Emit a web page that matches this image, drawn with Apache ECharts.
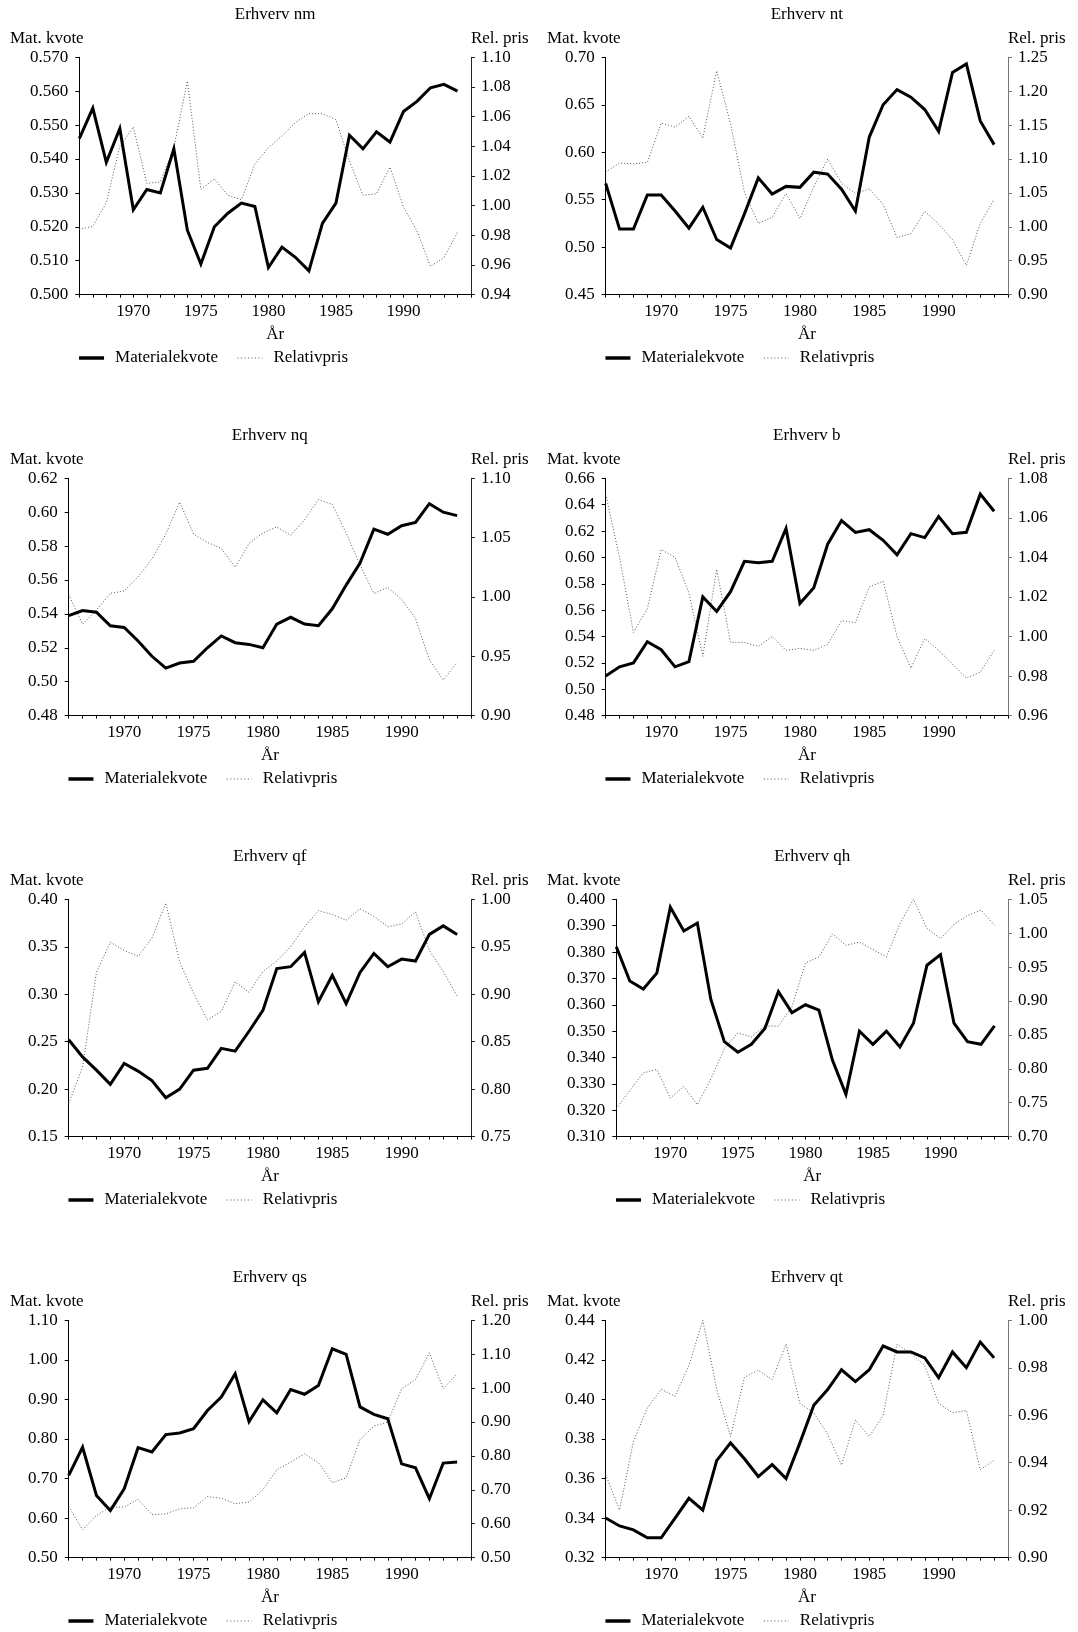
<!DOCTYPE html>
<html>
<head>
<meta charset="utf-8">
<script src="https://cdn.jsdelivr.net/npm/echarts@6/dist/echarts.min.js"></script>
<style>
  html, body { margin: 0; padding: 0; background: #fff; }
  #chart { width: 1078px; height: 1632px; }
</style>
</head>
<body>
<div id="chart"></div>
<script>
// Years on the horizontal axis
const years = [1966, 1967, 1968, 1969, 1970, 1971, 1972, 1973, 1974, 1975,
               1976, 1977, 1978, 1979, 1980, 1981, 1982, 1983, 1984, 1985,
               1986, 1987, 1988, 1989, 1990, 1991, 1992, 1993, 1994];

// Industries, in panel order (row by row, left to right)
const industries = ['nm', 'nt', 'nq', 'b', 'qf', 'qh', 'qs', 'qt'];

// Materialekvote (left axis) and Relativpris (right axis) per industry
const nmMat = [0.546, 0.555, 0.539, 0.549, 0.525, 0.531, 0.530, 0.543, 0.519, 0.509,
               0.520, 0.524, 0.527, 0.526, 0.508, 0.514, 0.511, 0.507, 0.521, 0.527,
               0.547, 0.543, 0.548, 0.545, 0.554, 0.557, 0.561, 0.562, 0.560];
const nmRel = [0.984, 0.986, 1.002, 1.040, 1.053, 1.015, 1.016, 1.039, 1.084, 1.011,
               1.018, 1.007, 1.004, 1.028, 1.039, 1.047, 1.056, 1.062, 1.062, 1.058,
               1.030, 1.007, 1.008, 1.026, 0.999, 0.983, 0.959, 0.965, 0.982];

const ntMat = [0.567, 0.519, 0.519, 0.555, 0.555, 0.538, 0.520, 0.542, 0.508, 0.499,
               0.535, 0.573, 0.556, 0.564, 0.563, 0.579, 0.577, 0.561, 0.538, 0.616,
               0.650, 0.666, 0.658, 0.645, 0.622, 0.684, 0.693, 0.633, 0.608];
const ntRel = [1.081, 1.094, 1.093, 1.095, 1.153, 1.147, 1.163, 1.131, 1.230, 1.152,
               1.051, 1.005, 1.014, 1.049, 1.012, 1.059, 1.100, 1.064, 1.049, 1.056,
               1.033, 0.984, 0.990, 1.023, 1.004, 0.981, 0.943, 1.005, 1.041];

const nqMat = [0.539, 0.542, 0.541, 0.533, 0.532, 0.524, 0.515, 0.508, 0.511, 0.512,
               0.520, 0.527, 0.523, 0.522, 0.520, 0.534, 0.538, 0.534, 0.533, 0.543,
               0.557, 0.570, 0.590, 0.587, 0.592, 0.594, 0.605, 0.600, 0.598];
const nqRel = [1.002, 0.977, 0.989, 1.003, 1.005, 1.017, 1.032, 1.053, 1.080, 1.053,
               1.046, 1.041, 1.025, 1.045, 1.054, 1.059, 1.052, 1.065, 1.082, 1.078,
               1.054, 1.027, 1.003, 1.008, 0.998, 0.982, 0.947, 0.930, 0.945];

const bMat  = [0.510, 0.517, 0.520, 0.536, 0.530, 0.517, 0.521, 0.570, 0.559, 0.574,
               0.597, 0.596, 0.597, 0.622, 0.565, 0.577, 0.610, 0.628, 0.619, 0.621,
               0.613, 0.602, 0.618, 0.615, 0.631, 0.618, 0.619, 0.648, 0.635];
const bRel  = [1.072, 1.040, 1.002, 1.014, 1.044, 1.040, 1.022, 0.990, 1.034, 0.997,
               0.997, 0.995, 1.000, 0.993, 0.994, 0.993, 0.996, 1.008, 1.007, 1.025,
               1.028, 1.000, 0.984, 0.999, 0.993, 0.986, 0.979, 0.982, 0.993];

const qfMat = [0.252, 0.234, 0.220, 0.205, 0.227, 0.219, 0.209, 0.191, 0.200, 0.220,
               0.222, 0.243, 0.240, 0.261, 0.283, 0.327, 0.329, 0.344, 0.292, 0.320,
               0.290, 0.323, 0.343, 0.329, 0.337, 0.335, 0.363, 0.372, 0.363];
const qfRel = [0.785, 0.823, 0.923, 0.955, 0.946, 0.940, 0.959, 0.996, 0.934, 0.901,
               0.873, 0.882, 0.913, 0.902, 0.924, 0.935, 0.950, 0.971, 0.988, 0.984,
               0.978, 0.990, 0.982, 0.971, 0.974, 0.987, 0.946, 0.924, 0.898];

const qhMat = [0.382, 0.369, 0.366, 0.372, 0.397, 0.388, 0.391, 0.362, 0.346, 0.342,
               0.345, 0.351, 0.365, 0.357, 0.360, 0.358, 0.339, 0.326, 0.350, 0.345,
               0.350, 0.344, 0.353, 0.375, 0.379, 0.353, 0.346, 0.345, 0.352];
const qhRel = [0.741, 0.768, 0.794, 0.799, 0.757, 0.774, 0.747, 0.785, 0.830, 0.853,
               0.847, 0.863, 0.863, 0.891, 0.956, 0.965, 0.999, 0.982, 0.987, 0.976,
               0.965, 1.014, 1.050, 1.007, 0.992, 1.013, 1.026, 1.034, 1.012];

const qsMat = [0.708, 0.779, 0.657, 0.619, 0.674, 0.778, 0.767, 0.811, 0.815, 0.826,
               0.872, 0.906, 0.965, 0.844, 0.899, 0.866, 0.925, 0.913, 0.935, 1.028,
               1.014, 0.881, 0.862, 0.851, 0.737, 0.727, 0.649, 0.739, 0.742];
const qsRel = [0.651, 0.582, 0.624, 0.649, 0.649, 0.672, 0.627, 0.629, 0.644, 0.647,
               0.680, 0.675, 0.659, 0.664, 0.700, 0.759, 0.782, 0.806, 0.780, 0.721,
               0.735, 0.848, 0.888, 0.900, 0.998, 1.025, 1.104, 0.998, 1.043];

const qtMat = [0.340, 0.336, 0.334, 0.330, 0.330, 0.340, 0.350, 0.344, 0.369, 0.378,
               0.370, 0.361, 0.367, 0.360, 0.378, 0.397, 0.405, 0.415, 0.409, 0.415,
               0.427, 0.424, 0.424, 0.421, 0.411, 0.424, 0.416, 0.429, 0.421];
const qtRel = [0.935, 0.920, 0.949, 0.963, 0.971, 0.968, 0.981, 1.000, 0.971, 0.951,
               0.976, 0.979, 0.975, 0.990, 0.965, 0.961, 0.952, 0.939, 0.958, 0.951,
               0.960, 0.990, 0.986, 0.981, 0.965, 0.961, 0.962, 0.937, 0.941];

const matSeries = [nmMat, ntMat, nqMat, bMat, qfMat, qhMat, qsMat, qtMat];
const relSeries = [nmRel, ntRel, nqRel, bRel, qfRel, qhRel, qsRel, qtRel];

// Axis scales: [min, max, step, decimals]
const matScale = [[0.50, 0.57, 0.01, 3], [0.45, 0.70, 0.05, 2], [0.48, 0.62, 0.02, 2], [0.48, 0.66, 0.02, 2],
                  [0.15, 0.40, 0.05, 2], [0.31, 0.40, 0.01, 3], [0.50, 1.10, 0.10, 2], [0.32, 0.44, 0.02, 2]];
const relScale = [[0.94, 1.10, 0.02, 2], [0.90, 1.25, 0.05, 2], [0.90, 1.10, 0.05, 2], [0.96, 1.08, 0.02, 2],
                  [0.75, 1.00, 0.05, 2], [0.70, 1.05, 0.05, 2], [0.50, 1.20, 0.10, 2], [0.90, 1.00, 0.02, 2]];

const FONT = '"Liberation Serif", "Times New Roman", serif';
const txt = { fontFamily: FONT, fontSize: 17, color: '#000' };

// Panel placement
const colX = [0, 537];
const rowY = [0, 421, 842, 1263];
const plotTop = 57.3, plotHeight = 237.3, plotRight = 471;

const grids = [], xAxes = [], yAxes = [], series = [], legends = [], graphics = [];

industries.forEach((code, i) => {
  const cx = colX[i % 2];
  const cy = rowY[Math.floor(i / 2)];
  const ms = matScale[i], rs = relScale[i];
  const left = cx + (ms[3] === 3 ? 79.3 : 68.7);
  const right = cx + plotRight;
  const top = cy + plotTop;
  const rightAxisColor = (i % 2 === 1) ? '#777' : '#222';

  grids.push({ left: left, top: top, width: right - left, height: plotHeight, containLabel: false });

  xAxes.push({
    type: 'value', gridIndex: i, min: 1966, max: 1995, interval: 1,
    name: 'År', nameLocation: 'middle', nameGap: 31, nameTextStyle: txt,
    axisLine: { show: true, lineStyle: { color: '#000', width: 1 } },
    axisTick: { show: true, inside: false, length: 3, lineStyle: { color: '#000' } },
    splitLine: { show: false },
    axisLabel: Object.assign({}, txt, {
      margin: 8, showMinLabel: true, showMaxLabel: true,
      formatter: v => (v % 5 === 0 && v < 1995) ? String(v) : ''
    })
  });

  yAxes.push({
    type: 'value', gridIndex: i, position: 'left',
    min: ms[0], max: ms[1], interval: ms[2],
    axisLine: { show: true, lineStyle: { color: '#000', width: 1 } },
    axisTick: { show: true, inside: false, length: 4, lineStyle: { color: '#000' } },
    splitLine: { show: false },
    axisLabel: Object.assign({}, txt, { margin: 11, formatter: v => v.toFixed(ms[3]) })
  });
  yAxes.push({
    type: 'value', gridIndex: i, position: 'right',
    min: rs[0], max: rs[1], interval: rs[2],
    axisLine: { show: true, lineStyle: { color: rightAxisColor, width: 1 } },
    axisTick: { show: true, inside: false, length: 4, lineStyle: { color: rightAxisColor } },
    splitLine: { show: false },
    axisLabel: Object.assign({}, txt, { margin: 10, formatter: v => v.toFixed(rs[3]) })
  });

  series.push({
    name: 'Materialekvote', type: 'line', xAxisIndex: i, yAxisIndex: 2 * i,
    data: years.map((y, k) => [y, matSeries[i][k]]),
    symbol: 'none', showSymbol: false, z: 3, silent: true,
    itemStyle: { color: '#000' },
    lineStyle: { color: '#000', width: 3, join: 'miter' }
  });
  series.push({
    name: 'Relativpris', type: 'line', xAxisIndex: i, yAxisIndex: 2 * i + 1,
    data: years.map((y, k) => [y, relSeries[i][k]]),
    symbol: 'none', showSymbol: false, z: 2, silent: true,
    itemStyle: { color: '#555' },
    lineStyle: { color: '#555', width: 1, type: [1, 2] }
  });

  legends.push({
    data: [
      { name: 'Materialekvote', lineStyle: { width: 3.5, color: '#000' } },
      { name: 'Relativpris', lineStyle: { width: 1, color: '#555', type: [1, 2.5] } }
    ],
    left: left - 2, top: cy + 349.5, padding: 0,
    itemWidth: 25, itemHeight: 14, itemGap: 19,
    itemStyle: { opacity: 0 },
    textStyle: Object.assign({}, txt, { padding: [0, 0, 0, 6] }),
    selectedMode: false
  });

  // Panel heading and axis captions
  graphics.push({
    type: 'text', x: (left + right) / 2, y: cy + 15,
    style: { text: 'Erhverv ' + code, font: '17px ' + FONT, fill: '#000',
             align: 'center', verticalAlign: 'middle', textAlign: 'center', textVerticalAlign: 'middle' }
  });
  graphics.push({
    type: 'text', x: cx + 10, y: cy + 38.5,
    style: { text: 'Mat. kvote', font: '17px ' + FONT, fill: '#000',
             align: 'left', verticalAlign: 'middle', textAlign: 'left', textVerticalAlign: 'middle' }
  });
  graphics.push({
    type: 'text', x: cx + 528.5, y: cy + 38.5,
    style: { text: 'Rel. pris', font: '17px ' + FONT, fill: '#000',
             align: 'right', verticalAlign: 'middle', textAlign: 'right', textVerticalAlign: 'middle' }
  });
});

const chart = echarts.init(document.getElementById('chart'), null, { renderer: 'canvas' });
chart.setOption({
  animation: false,
  backgroundColor: '#fff',
  grid: grids,
  xAxis: xAxes,
  yAxis: yAxes,
  legend: legends,
  series: series,
  graphic: { elements: graphics }
});
</script>
</body>
</html>
